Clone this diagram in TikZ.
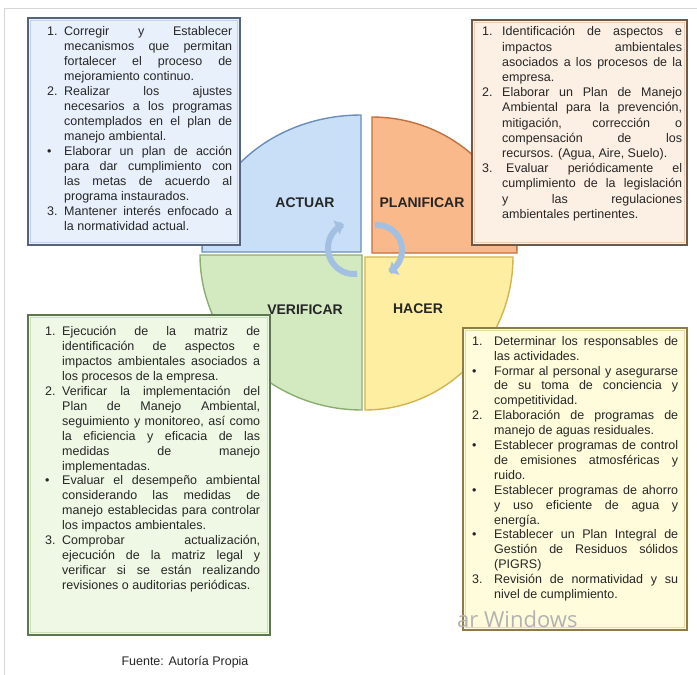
\documentclass[tikz,border=0pt]{standalone}
\usepackage{fontspec}
\setmainfont{Liberation Sans}
\newfontfamily\wmfont{Open Sans}
\usetikzlibrary{arrows.meta,calc}
\definecolor{txtc}{HTML}{262626}
\definecolor{lblc}{HTML}{262626}
\definecolor{framec}{HTML}{D6D6D6}
\definecolor{arrc}{HTML}{A3BFE2}
% quadrants
\definecolor{qAf}{HTML}{C9DFF7}\definecolor{qAd}{HTML}{6A8DBD}
\definecolor{qPf}{HTML}{F9B98B}\definecolor{qPd}{HTML}{C0703F}
\definecolor{qVf}{HTML}{D3EAC1}\definecolor{qVd}{HTML}{8CAD70}
\definecolor{qHf}{HTML}{FDEEA2}\definecolor{qHd}{HTML}{D2B450}
% boxes
\definecolor{bAf}{HTML}{E8F0FB}\definecolor{bAd}{HTML}{55647C}\definecolor{bAl}{HTML}{C2D2EA}
\definecolor{bPf}{HTML}{FCEFE3}\definecolor{bPd}{HTML}{705846}\definecolor{bPl}{HTML}{E8CCB4}
\definecolor{bVf}{HTML}{EEF8E4}\definecolor{bVd}{HTML}{5C7651}\definecolor{bVl}{HTML}{C8E0B8}
\definecolor{bHf}{HTML}{FEFCDA}\definecolor{bHd}{HTML}{8E7C46}\definecolor{bHl}{HTML}{E8DCA2}
\newlength\labw
\newcommand\itm[2]{\hangindent=\labw\hangafter=1\noindent\makebox[\labw][l]{#1}#2\par}
\newcommand\tbox[7]{%
  \fill[#5] (#1,#2) rectangle (#3,#4);
  \draw[#6,line width=2pt] (#1,#2) rectangle (#3,#4);
  \draw[#7,line width=1.3pt] ($(#1,#2)+(2.6,2.6)$) rectangle ($(#3,#4)+(-2.6,-2.6)$);}
\tikzset{
  txt/.style={anchor=north west, inner sep=0pt, align=justify, text=txtc},
  lbl/.style={font=\fontsize{14}{16}\selectfont\bfseries, text=lblc, inner sep=0pt},
  cyc/.style={draw=arrc, line width=6pt, -{Triangle[width=15pt,length=8pt]}},
  quad/.style={line width=1.4pt},
}
\begin{document}
\begin{tikzpicture}[x=1pt,y=-1pt]
\useasboundingbox (0,0) rectangle (697,675);
\fill[white] (0,0) rectangle (697,675);
\draw[framec,line width=1pt] (4,675) -- (4,8) -- (697,8);
% quadrants
\filldraw[quad,fill=qAf,draw=qAd] (361,252) -- plot[domain=180:270,samples=50] ({361+159*cos(\x)},{252+137*sin(\x)}) -- cycle;
\filldraw[quad,fill=qPf,draw=qPd] (372,253) -- plot[domain=270:360,samples=50] ({372+145*cos(\x)},{253+136*sin(\x)}) -- cycle;
\filldraw[quad,fill=qVf,draw=qVd] (362,255) -- plot[domain=90:180,samples=50] ({362+162*cos(\x)},{255+155*sin(\x)}) -- cycle;
\filldraw[quad,fill=qHf,draw=qHd] (365,257) -- plot[domain=0:90,samples=50] ({365+148*cos(\x)},{257+153*sin(\x)}) -- cycle;
% labels
\node[lbl] (actuar) at (305,203) {ACTUAR};
\node[lbl] (planif) at (422,203) {PLANIFICAR};
\node[lbl] (verif) at (305,310) {VERIFICAR};
\node[lbl] (hacer) at (418,309) {HACER};
% cycle arrows
\draw[cyc] plot[domain=83:247,samples=50] ({354+26*cos(\x)},{248+26*sin(\x)});
\draw[cyc] plot[domain=265:422,samples=50] ({377+25*cos(\x)},{250+25*sin(\x)});
% boxes
\tbox{28}{18}{240}{245}{bAf}{bAd}{bAl}
\tbox{472}{20}{687}{245}{bPf}{bPd}{bPl}
\tbox{28}{315}{270}{635}{bVf}{bVd}{bVl}
\tbox{463}{328}{687}{630}{bHf}{bHd}{bHl}
\node[txt, text width=185pt, font=\fontsize{12.5}{15}\selectfont] (acttxt) at (47,26.5) {\setlength\labw{17pt}\tolerance=10000\hyphenpenalty=10000
\itm{1.}{Corregir y Establecer\linebreak mecanismos que permitan\linebreak fortalecer el proceso de\linebreak mejoramiento continuo.}
\itm{2.}{Realizar los ajustes\linebreak necesarios a los programas\linebreak contemplados en el plan de\linebreak manejo ambiental.}
\itm{\textbullet}{Elaborar un plan de acción\linebreak para dar cumplimiento con\linebreak las metas de acuerdo al\linebreak programa instaurados.}
\itm{3.}{Mantener interés enfocado a\linebreak la normatividad actual.}};
\node[txt, text width=200pt, font=\fontsize{12.5}{15.2}\selectfont] (plantxt) at (482,26.5) {\setlength\labw{20pt}\tolerance=10000\hyphenpenalty=10000
\itm{1.}{Identificación de aspectos e\linebreak impactos ambientales\linebreak asociados a los procesos de la\linebreak empresa.}
\itm{2.}{Elaborar un Plan de Manejo\linebreak Ambiental para la prevención,\linebreak mitigación, corrección o\linebreak compensación de los\linebreak recursos. (Agua, Aire, Suelo).}
\itm{3.}{\hspace*{4pt}Evaluar periódicamente el\linebreak cumplimiento de la legislación\linebreak y las regulaciones\linebreak ambientales pertinentes.}};
\node[txt, text width=215pt, font=\fontsize{12.5}{14.9}\selectfont] (veriftxt) at (45,326.5) {\setlength\labw{17pt}\tolerance=10000\hyphenpenalty=10000
\itm{1.}{Ejecución de la matriz de\linebreak identificación de aspectos e\linebreak impactos ambientales asociados a\linebreak los procesos de la empresa.}
\itm{2.}{Verificar la implementación del\linebreak Plan de Manejo Ambiental,\linebreak seguimiento y monitoreo, así como\linebreak la eficiencia y eficacia de las\linebreak medidas de manejo\linebreak implementadas.}
\itm{\textbullet}{Evaluar el desempeño ambiental\linebreak considerando las medidas de\linebreak manejo establecidas para controlar\linebreak los impactos ambientales.}
\itm{3.}{Comprobar actualización,\linebreak ejecución de la matriz legal y\linebreak verificar si se están realizando\linebreak revisiones o auditorias periódicas.}};
\node[txt, text width=206pt, font=\fontsize{12.5}{14.9}\selectfont] (hacertxt) at (472,336) {\setlength\labw{22pt}\tolerance=10000\hyphenpenalty=10000
\itm{1.}{Determinar los responsables de\linebreak las actividades.}
\itm{\textbullet}{Formar al personal y asegurarse\linebreak de su toma de conciencia y\linebreak competitividad.}
\itm{2.}{Elaboración de programas de\linebreak manejo de aguas residuales.}
\itm{\textbullet}{Establecer programas de control\linebreak de emisiones atmosféricas y\linebreak ruido.}
\itm{\textbullet}{Establecer programas de ahorro\linebreak y uso eficiente de agua y\linebreak energía.}
\itm{\textbullet}{Establecer un Plan Integral de\linebreak Gestión de Residuos sólidos\linebreak (PIGRS)}
\itm{3.}{Revisión de normatividad y su\linebreak nivel de cumplimiento.}};
% watermark and caption
\node[anchor=west, inner sep=0pt, text=black!30, font=\wmfont\fontsize{22}{24}\selectfont] (wm) at (457,619) {ar Windows};
\node[inner sep=0pt, text=txtc, font=\fontsize{12.5}{14}\selectfont] (cap) at (185,662) {Fuente: Autoría Propia};
\end{tikzpicture}
\end{document}
